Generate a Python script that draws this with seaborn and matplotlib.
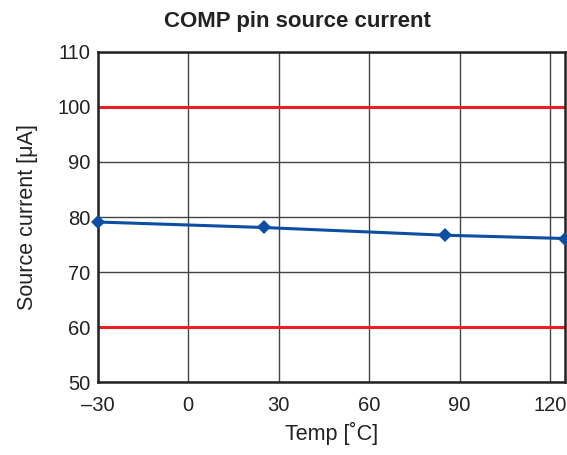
import matplotlib
matplotlib.use("Agg")
import matplotlib.pyplot as plt
import seaborn as sns

# data
temps = [-30, 25, 85, 125]
current_ua = [79.1, 78.1, 76.7, 76.1]
limits = [60, 100]
x_ticks = [-30, 0, 30, 60, 90, 120]
x_labels = ["\u201330", "0", "30", "60", "90", "120"]
y_ticks = [50, 60, 70, 80, 90, 100, 110]

sns.set_style("white")
plt.rcParams["font.family"] = ["Liberation Sans", "DejaVu Sans"]

fig = plt.figure(figsize=(5.67, 4.55), dpi=100)
ax = fig.add_axes([0.172, 0.160, 0.825, 0.726])

# spec limit lines
for lim in limits:
    ax.axhline(lim, color="#ee1c25", lw=2.2, zorder=2)

sns.lineplot(x=temps, y=current_ua, ax=ax, color="#0b4ea2", lw=2.2,
             marker="D", markersize=7, markeredgewidth=0, zorder=3,
             clip_on=False)

ax.set_xlim(-30, 125)
ax.set_ylim(50, 110)
ax.set_xticks(x_ticks)
ax.set_xticklabels(x_labels)
ax.set_yticks(y_ticks)
ax.tick_params(axis="both", length=0, labelsize=14.5, colors="#222222")
ax.tick_params(axis="y", pad=5)
ax.tick_params(axis="x", pad=10)

ax.grid(True, color="#444444", lw=1.0, zorder=1)
ax.set_axisbelow(True)
for sp in ax.spines.values():
    sp.set_color("#222222")
    sp.set_linewidth(1.8)

fig.text(297 / 567, 1 - 21 / 455, "COMP pin source current", fontsize=16,
         fontweight="bold", color="#222222", ha="center", va="center")
ax.set_xlabel("Temp [\u02daC]", fontsize=15.5, color="#222222", labelpad=5)
ax.set_ylabel("Source current [\u03bcA]", fontsize=15.5, color="#222222", labelpad=14)

fig.savefig("out.png", dpi=100)
